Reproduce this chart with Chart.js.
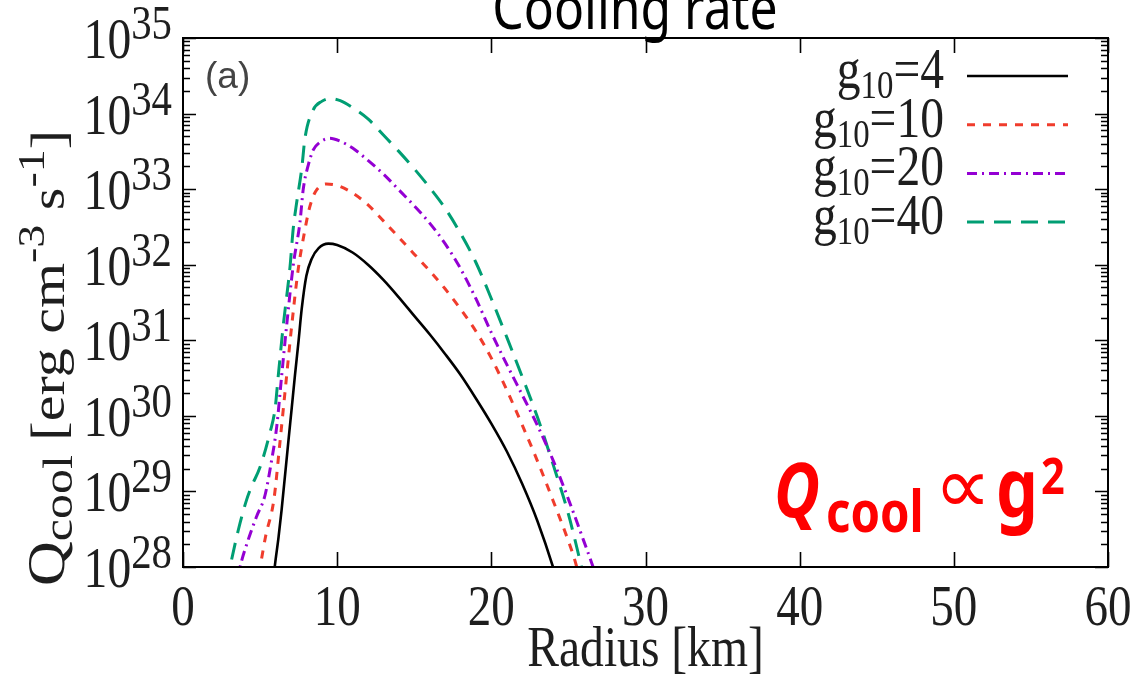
<!DOCTYPE html>
<html><head><meta charset="utf-8">
<script src="https://cdn.jsdelivr.net/npm/chart.js@4.4.1/dist/chart.umd.min.js"></script>
<style>html,body{margin:0;padding:0;background:#fff;}#wrap{width:1142px;height:684px;}</style>
</head><body><div id="wrap"><canvas id="c" width="1142" height="684"></canvas></div>
<script>
// ---------- data ----------
const gValues = ['4', '10', '20', '40'];
const seriesColors = ['#000000', '#f03c2c', '#9400d3', '#009e73'];
const seriesDashes = [[], [8, 8], [10, 5, 2, 5], [17, 10]];
const seriesWidths = [2.6, 3, 3, 3];

const radiusG4 = [5.8, 5.95, 6.2, 6.4, 6.83, 7.05, 7.26, 7.5, 7.7, 8.0, 8.35, 8.8, 9.43, 10.0, 11.0, 12.0, 13.0, 14.0, 15.0, 16.0, 17.0, 18.0, 19.0, 20.0, 21.0, 22.0, 23.0, 24.0, 24.4];
const qcoolG4 = [5.0e27, 1.0e28, 2.5e28, 5.8e28, 4.5e29, 1.26e30, 3.4e30, 1.0e31, 2.6e31, 7.1e31, 1.2e32, 1.66e32, 1.9e32, 1.82e32, 1.45e32, 1.0e32, 6.3e31, 3.7e31, 2.1e31, 1.2e31, 6.6e30, 3.5e30, 1.7e30, 7.9e29, 3.4e29, 1.26e29, 4.0e28, 1.0e28, 5.2e27];

const radiusG10 = [4.7, 5.0, 5.35, 5.9, 6.29, 6.61, 7.05, 7.48, 7.85, 8.2, 8.6, 9.3, 10.0, 11.0, 12.0, 13.0, 14.0, 15.0, 16.0, 17.0, 18.0, 19.0, 20.0, 21.0, 22.0, 23.0, 24.0, 25.0, 25.4, 25.8];
const qcoolG10 = [5.0e27, 1.0e28, 2.5e28, 7.9e28, 4.5e29, 2.0e30, 1.55e31, 8.9e31, 2.5e32, 5.6e32, 9.3e32, 1.17e33, 1.12e33, 8.9e32, 6.2e32, 3.8e32, 2.3e32, 1.38e32, 8.3e31, 4.8e31, 2.6e31, 1.32e31, 5.8e30, 2.2e30, 7.6e29, 2.5e29, 7.6e28, 2.2e28, 1.26e28, 6.3e27];

const radiusG20 = [3.5, 3.7, 4.2, 4.78, 5.32, 5.75, 6.08, 6.4, 6.72, 7.15, 7.59, 7.8, 8.13, 8.45, 8.9, 9.53, 10.2, 11.0, 12.0, 13.0, 14.0, 15.0, 16.0, 17.0, 18.0, 19.0, 20.0, 21.0, 22.0, 23.0, 24.0, 25.0, 26.0, 26.6, 27.0];
const qcoolG20 = [6.3e27, 1.0e28, 2.2e28, 4.7e28, 8.9e28, 2.6e29, 7.2e29, 3.4e30, 1.55e31, 9.8e31, 3.7e32, 1.0e33, 2.1e33, 3.3e33, 4.2e33, 4.7e33, 4.3e33, 3.5e33, 2.4e33, 1.58e33, 9.8e32, 6.0e32, 3.55e32, 1.9e32, 8.9e31, 3.55e31, 1.26e31, 4.8e30, 1.9e30, 7.4e29, 2.6e29, 7.9e28, 2.2e28, 1.0e28, 5.6e27];

const radiusG40 = [2.8, 3.05, 3.6, 4.13, 4.45, 5.0, 5.64, 5.97, 6.18, 6.5, 6.94, 7.15, 7.38, 7.7, 7.91, 8.45, 9.0, 9.53, 10.2, 11.0, 12.0, 13.0, 14.0, 15.0, 16.0, 17.0, 18.0, 19.0, 20.0, 21.0, 22.0, 23.0, 24.0, 25.0, 25.85, 26.2];
const qcoolG40 = [5.6e27, 1.0e28, 3.16e28, 7.8e28, 1.17e29, 2.1e29, 6.0e29, 1.23e30, 3.4e30, 1.55e31, 9.3e31, 3.0e32, 6.8e32, 1.86e33, 4.7e33, 1.12e34, 1.45e34, 1.58e34, 1.48e34, 1.2e34, 8.5e33, 5.2e33, 3.16e33, 1.86e33, 1.05e33, 5.6e32, 2.6e32, 1.07e32, 3.55e31, 1.1e31, 3.3e30, 9.5e29, 2.3e29, 5.0e28, 1.0e28, 5.0e27];

const xTickValues = [0, 10, 20, 30, 40, 50, 60];
const xTickLabels = ['0', '10', '20', '30', '40', '50', '60'];
const yTickValues = [1e28, 1e29, 1e30, 1e31, 1e32, 1e33, 1e34, 1e35];
const yTickExponents = ['28', '29', '30', '31', '32', '33', '34', '35'];
const titleText = 'Cooling rate';
const panelLabel = '(a)';
const xAxisTitle = 'Radius [km]';

// ---------- drawing helpers ----------
const SERIF = '"Liberation Serif", "Times New Roman", serif';
const SANS = '"Noto Sans", "Open Sans", "DejaVu Sans", sans-serif';
const INK = '#1e1e1e';
function drawParts(ctx, parts, x, y, align, sx) {
  let w = 0;
  parts.forEach(p => { ctx.font = p.f; p.w = ctx.measureText(p.t).width * sx; w += p.w; });
  let cx = align === 'right' ? x - w : (align === 'center' ? x - w / 2 : x);
  parts.forEach(p => {
    ctx.save();
    ctx.translate(cx, y + (p.dy || 0));
    ctx.scale(sx, 1);
    ctx.font = p.f; ctx.textAlign = 'left'; ctx.textBaseline = 'alphabetic';
    ctx.fillStyle = p.c || INK;
    ctx.fillText(p.t, 0, 0);
    ctx.restore();
    cx += p.w;
  });
  return w;
}

const bgPlugin = {
  id: 'bg',
  beforeDraw(chart) {
    const ctx = chart.ctx;
    ctx.save(); ctx.fillStyle = '#fff'; ctx.fillRect(0, 0, chart.width, chart.height); ctx.restore();
  }
};

const axesPlugin = {
  id: 'gnuplotAxes',
  afterDatasetsDraw(chart) {
    const ctx = chart.ctx;
    const { left, right, top, bottom } = chart.chartArea;
    const xs = chart.scales.x, ys = chart.scales.y;
    ctx.save();
    ctx.strokeStyle = '#000';
    ctx.lineWidth = 2;
    ctx.strokeRect(left, top, right - left, bottom - top);
    ctx.lineWidth = 1.6;
    ctx.beginPath();
    xTickValues.forEach(v => {
      const px = Math.round(xs.getPixelForValue(v)) + 0.5;
      ctx.moveTo(px, bottom); ctx.lineTo(px, bottom - 15);
      ctx.moveTo(px, top); ctx.lineTo(px, top + 15);
    });
    yTickValues.forEach((v, i) => {
      const py = Math.round(ys.getPixelForValue(v)) + 0.5;
      ctx.moveTo(left, py); ctx.lineTo(left + 13, py);
      ctx.moveTo(right, py); ctx.lineTo(right - 13, py);
      if (i < yTickValues.length - 1) {
        for (let m = 2; m <= 9; m++) {
          const my = Math.round(ys.getPixelForValue(v * m)) + 0.5;
          ctx.moveTo(left, my); ctx.lineTo(left + 7, my);
          ctx.moveTo(right, my); ctx.lineTo(right - 7, my);
        }
      }
    });
    ctx.stroke();

    // x tick labels
    xTickValues.forEach((v, i) => {
      drawParts(ctx, [{ t: xTickLabels[i], f: '56px ' + SERIF }], xs.getPixelForValue(v), bottom + 58, 'center', 0.84);
    });
    // y tick labels 10^n
    yTickValues.forEach((v, i) => {
      const py = ys.getPixelForValue(v);
      drawParts(ctx, [
        { t: '10', f: '56px ' + SERIF },
        { t: yTickExponents[i], f: '48px ' + SERIF, dy: -19 }
      ], left - 11, py + 20, 'right', 0.85);
    });
    // x axis title
    drawParts(ctx, [{ t: xAxisTitle, f: '58px ' + SERIF }], (left + right) / 2, bottom + 99, 'center', 0.82);

    // y axis title (rotated)
    ctx.save();
    ctx.translate(64, 358);
    ctx.scale(0.84, 1);
    ctx.rotate(-Math.PI / 2);
    drawParts(ctx, [
      { t: 'Q', f: '62px ' + SERIF },
      { t: 'cool', f: '50px ' + SERIF, dy: 10 },
      { t: ' [erg cm', f: '58px ' + SERIF },
      { t: '-3', f: '46px ' + SERIF, dy: -24 },
      { t: ' s', f: '58px ' + SERIF },
      { t: '-1', f: '46px ' + SERIF, dy: -24 },
      { t: ']', f: '58px ' + SERIF }
    ], 0, 0, 'center', 1);
    ctx.restore();

    // panel label
    drawParts(ctx, [{ t: panelLabel, f: '37px "Liberation Sans", Arial, sans-serif', c: '#444' }], left + 22, top + 50, 'left', 1.0);

    // legend
    chart.data.datasets.forEach((ds, i) => {
      const ly = top + 38 + i * 48.7;
      drawParts(ctx, [
        { t: 'g', f: '58px ' + SERIF },
        { t: '10', f: '40px ' + SERIF, dy: 10 },
        { t: '=' + gValues[i], f: '58px ' + SERIF }
      ], 944, ly + 12, 'right', 0.82);
      ctx.save();
      ctx.strokeStyle = ds.borderColor;
      ctx.lineWidth = ds.borderWidth;
      ctx.setLineDash(ds.borderDash || []);
      ctx.beginPath(); ctx.moveTo(967, ly); ctx.lineTo(1068, ly); ctx.stroke();
      ctx.restore();
    });

    // title (cut off at top)
    drawParts(ctx, [{ t: titleText, f: '60px ' + SANS, c: '#000' }], 635, 29, 'center', 0.83);

    // red annotation  Q_cool ∝ g^2
    const red = '#ff0000';
    drawParts(ctx, [{ t: 'Q', f: 'italic bold 76px ' + SANS, c: red }], 774, 517, 'left', 0.83);
    drawParts(ctx, [{ t: 'cool', f: 'bold 57px ' + SANS, c: red }], 826, 532, 'left', 0.83);
    drawParts(ctx, [{ t: '\u221D', f: '80px "DejaVu Sans", sans-serif', c: red }], 934, 513, 'left', 1.0);
    drawParts(ctx, [{ t: 'g', f: 'bold 80px ' + SANS, c: red }], 996, 517, 'left', 0.83);
    drawParts(ctx, [{ t: '2', f: 'bold 50px ' + SANS, c: red }], 1041, 494, 'left', 0.83);
    ctx.restore();
  }
};

function pts(xa, ya) { return xa.map((x, i) => ({ x: x, y: ya[i] })); }
const radiusSets = [radiusG4, radiusG10, radiusG20, radiusG40];
const qcoolSets = [qcoolG4, qcoolG10, qcoolG20, qcoolG40];

const datasets = gValues.map((g, i) => ({
  label: 'g10=' + g,
  data: pts(radiusSets[i], qcoolSets[i]),
  borderColor: seriesColors[i],
  borderWidth: seriesWidths[i],
  borderDash: seriesDashes[i],
  fill: false,
  pointRadius: 0,
  cubicInterpolationMode: 'monotone',
  clip: 0
}));

new Chart(document.getElementById('c'), {
  type: 'line',
  data: { datasets: datasets },
  options: {
    responsive: false,
    animation: false,
    devicePixelRatio: 1,
    layout: { padding: { left: 183, right: 34, top: 38, bottom: 117 } },
    plugins: { legend: { display: false }, tooltip: { enabled: false } },
    scales: {
      x: { type: 'linear', min: 0, max: 60, display: false },
      y: { type: 'logarithmic', min: 1e28, max: 1e35, display: false }
    }
  },
  plugins: [bgPlugin, axesPlugin]
});
</script>
</body></html>
